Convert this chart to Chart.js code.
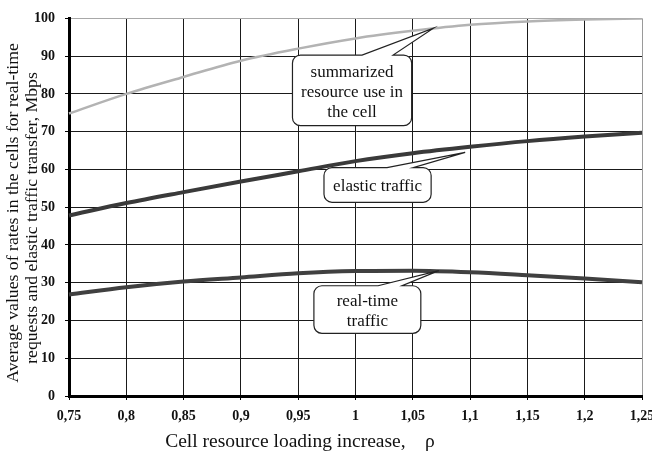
<!DOCTYPE html>
<html>
<head>
<meta charset="utf-8">
<script src="https://cdn.jsdelivr.net/npm/chart.js@4/dist/chart.umd.min.js"></script>
<style>
    html, body { margin: 0; padding: 0; background: #fff; }
    #wrap { width: 652px; height: 454px; position: relative; }
</style>
</head>
<body>
<div id="wrap"><canvas id="chart"></canvas></div>
<script>
// rho values as printed on the axis
const xLabels = ['0,75', '0,8', '0,85', '0,9', '0,95', '1', '1,05', '1,1', '1,15', '1,2', '1,25'];
const summarized = [74.8, 80.0, 84.5, 88.8, 92.0, 94.7, 96.7, 98.3, 99.2, 99.7, 100];
const elastic = [47.8, 51.1, 54.0, 56.8, 59.5, 62.2, 64.3, 66.0, 67.5, 68.7, 69.7];
const realTime = [26.9, 28.8, 30.3, 31.4, 32.5, 33.1, 33.2, 32.8, 32.0, 31.1, 30.1];
const yTitle = ['Average values of rates in the cells for real-time', 'requests and elastic traffic transfer, Mbps'];
const xTitle = 'Cell resource loading increase,    \u03c1';

// callouts, in data units (rho, Mbps)
const xStart = 0.75, xStep = 0.05;
const callouts = [
    {lines: ['summarized', 'resource use in', 'the cell'], box: [0.945, 90.3, 1.049, 71.6], base: [1.0057, 1.0328], tip: [1.068, 97.4]},
    {lines: ['elastic traffic'], box: [0.9725, 60.5, 1.066, 51.3], base: [1.0275, 1.0503], tip: [1.0957, 64.5]},
    {lines: ['real-time', 'traffic'], box: [0.9637, 29.2, 1.057, 16.6], base: [1.0197, 1.0407], tip: [1.0727, 33.2]}
];

const serif = '"Liberation Serif", "Times New Roman", serif';

const calloutPlugin = {
    id: 'callouts',
    afterDatasetsDraw(chart) {
        const ctx = chart.ctx, x = chart.scales.x, y = chart.scales.y;
        const px = v => x.getPixelForValue((v - xStart) / xStep);
        const r = 8;
        for (let c of callouts) {
            let l = px(c.box[0]), t = y.getPixelForValue(c.box[1]);
            let rr = px(c.box[2]), bb = y.getPixelForValue(c.box[3]);
            ctx.save();
            ctx.beginPath();
            ctx.moveTo(l + r, t);
            ctx.lineTo(px(c.base[0]), t);
            ctx.lineTo(px(c.tip[0]), y.getPixelForValue(c.tip[1]));
            ctx.lineTo(px(c.base[1]), t);
            ctx.lineTo(rr - r, t);
            ctx.arcTo(rr, t, rr, t + r, r);
            ctx.lineTo(rr, bb - r);
            ctx.arcTo(rr, bb, rr - r, bb, r);
            ctx.lineTo(l + r, bb);
            ctx.arcTo(l, bb, l, bb - r, r);
            ctx.lineTo(l, t + r);
            ctx.arcTo(l, t, l + r, t, r);
            ctx.closePath();
            ctx.fillStyle = '#fff';
            ctx.fill();
            ctx.strokeStyle = '#222';
            ctx.lineWidth = 1.2;
            ctx.stroke();

            ctx.fillStyle = '#111';
            ctx.font = '17px ' + serif;
            ctx.textAlign = 'center';
            ctx.textBaseline = 'middle';
            let cx = (l + rr) / 2, cy = (t + bb) / 2 + 2, lh = 20;
            c.lines.forEach((s, i) => {
                ctx.fillText(s, cx, cy + (i - (c.lines.length - 1) / 2) * lh);
            });
            ctx.restore();
        }
    },
    afterDraw(chart) {
        const ctx = chart.ctx;
        ctx.save();
        ctx.fillStyle = '#111';
        ctx.textAlign = 'center';
        ctx.textBaseline = 'middle';
        ctx.font = '19.5px ' + serif;
        ctx.fillText(xTitle, 300, 442);
        ctx.font = '17.7px ' + serif;
        [[13, 213], [32, 218]].forEach((p, i) => {
            ctx.save();
            ctx.translate(p[0], p[1]);
            ctx.rotate(-Math.PI / 2);
            ctx.fillText(yTitle[i], 0, 0);
            ctx.restore();
        });
        ctx.restore();
    }
};

const tickFont = {family: serif, size: 14, weight: 'bold'};

new Chart(document.getElementById('chart'), {
    type: 'line',
    data: {
        labels: xLabels,
        datasets: [
            {label: 'summarized', data: summarized, borderColor: '#b3b3b3', borderWidth: 2.5},
            {label: 'elastic', data: elastic, borderColor: '#3a3a3a', borderWidth: 4},
            {label: 'real-time', data: realTime, borderColor: '#404040', borderWidth: 4}
        ]
    },
    options: {
        responsive: true,
        maintainAspectRatio: false,
        animation: false,
        layout: {padding: {top: 16, right: 10, left: 0, bottom: 0}, autoPadding: false},
        elements: {
            point: {radius: 0},
            line: {tension: 0.4, cubicInterpolationMode: 'monotone', fill: false}
        },
        plugins: {legend: {display: false}, tooltip: {enabled: false}},
        scales: {
            x: {
                offset: false,
                grid: {
                    color: c => c.index === xLabels.length - 1 ? '#9a9a9a' : '#1a1a1a',
                    lineWidth: 1,
                    tickLength: 4,
                    tickColor: '#000'
                },
                border: {color: '#000', width: 3},
                ticks: {font: tickFont, color: '#111', padding: 8, maxRotation: 0, autoSkip: false},
                afterFit(scale) {
                    scale.height = 58;
                    scale.paddingLeft = 0;
                    scale.paddingRight = 0;
                }
            },
            y: {
                min: 0,
                max: 100,
                grid: {
                    color: c => c.tick.value === 100 ? '#a8a8a8' : '#1a1a1a',
                    lineWidth: 1,
                    tickLength: 4,
                    tickColor: '#000'
                },
                border: {color: '#000', width: 3},
                ticks: {stepSize: 10, font: tickFont, color: '#111', padding: 10},
                afterFit(scale) { scale.width = 69; }
            }
        }
    },
    plugins: [calloutPlugin]
});
</script>
</body>
</html>
